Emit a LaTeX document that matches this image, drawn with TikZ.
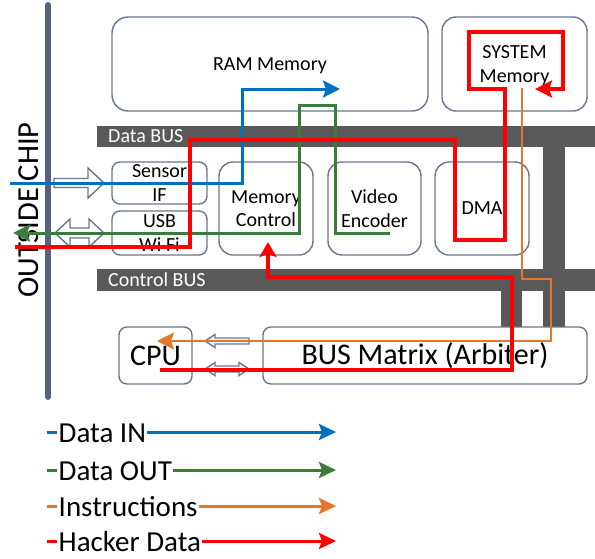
\documentclass[tikz,border=0pt]{standalone}
\usepackage{fontspec}
\setmainfont{Carlito}
\usetikzlibrary{arrows.meta}
\definecolor{busgray}{HTML}{595959}
\definecolor{boxline}{RGB}{106,117,140}
\definecolor{chipbar}{RGB}{88,98,122}
\definecolor{cblue}{HTML}{0070C0}
\definecolor{cgreen}{RGB}{58,124,60}
\definecolor{corange}{RGB}{230,118,44}
\definecolor{cred}{HTML}{FF0000}
\tikzset{
  blk/.style={draw=boxline, line width=1.4pt, fill=white, rectangle, inner sep=0pt, align=center},
  txt19/.style={font=\fontsize{20}{23.5}\selectfont},
  txt30/.style={font=\fontsize{30}{34}\selectfont},
  busbar/.style={fill=busgray, draw=none},
  buslabel/.style={text=white, font=\fontsize{20}{22}\selectfont, inner sep=0pt, anchor=west},
  hollow/.style={draw=boxline, line width=1.4pt, fill=white, line join=miter},
  tip/.style={-{Stealth[length=17pt,width=17pt,inset=3pt]}},
  flow/.style={line join=miter},
  legtext/.style={fill=white, inner xsep=1.5pt, inner ysep=0pt, text depth=0pt, anchor=base west, font=\fontsize{29}{30}\selectfont},
}
\begin{document}
\begin{tikzpicture}[x=1pt,y=-1pt]
\useasboundingbox (0,0) rectangle (595,558);
% buses
\fill[busgray] (97,126) rectangle (595,147);
\fill[busgray] (97,269) rectangle (595,291);
\fill[busgray] (543,126) rectangle (565,330);
\fill[busgray] (501,289) rectangle (522,330);
\node[buslabel] (databus) at (108,136.5) {Data BUS};
\node[buslabel] (ctrlbus) at (108,280) {Control BUS};
% outside chip bar
\draw[chipbar, line width=6pt, line cap=round] (48,5) -- (48,397);
\node[rotate=90, anchor=base, font=\fontsize{30.5}{34}\selectfont] (outside) at (38,210) {OUTSIDE CHIP};
% boxes
\node[blk, txt19, text depth=0pt, rounded corners=16pt, minimum width=316pt, minimum height=94pt] (ram) at (270,64) {RAM Memory};
\node[blk, txt19, text depth=0pt, rounded corners=14pt, minimum width=145pt, minimum height=94pt] (sys) at (514.5,64) {SYSTEM\\Memory};
\node[blk, txt19, rounded corners=8pt, minimum width=95pt, minimum height=42pt] (sensor) at (159.5,183) {Sensor\\IF};
\node[blk, txt19, rounded corners=8pt, minimum width=95pt, minimum height=44pt] (usb) at (159.5,233) {USB\\Wi Fi};
\node[blk, txt19, rounded corners=14pt, minimum width=94pt, minimum height=93pt] (memctl) at (266,208.5) {Memory\\Control};
\node[blk, txt19, rounded corners=14pt, minimum width=93pt, minimum height=93pt] (video) at (374.5,208.5) {Video\\Encoder};
\node[blk, txt19, rounded corners=14pt, minimum width=94pt, minimum height=93pt] (dma) at (482,208.5) {DMA};
\node[blk, txt30, rounded corners=8pt, minimum width=73pt, minimum height=57pt] (cpu) at (155.5,355.5) {CPU};
\node[blk, txt30, rounded corners=8pt, minimum width=324pt, minimum height=57pt] (busmx) at (425,355.5) {BUS Matrix (Arbiter)};
% hollow block arrows
\draw[hollow] (54,178.5) -- (88,178.5) -- (88,168) -- (104,183) -- (88,198) -- (88,187.5) -- (54,187.5) -- cycle;
\draw[hollow] (55,233) -- (70,219) -- (70,228) -- (89,228) -- (89,219) -- (104,233) -- (89,247) -- (89,238) -- (70,238) -- (70,247) -- cycle;
\draw[hollow] (205,341) -- (215,334.5) -- (215,338) -- (249,338) -- (249,344) -- (215,344) -- (215,347.5) -- cycle;
\draw[hollow] (205,369) -- (215,362.5) -- (215,366) -- (239,366) -- (239,362.5) -- (249,369) -- (239,375.5) -- (239,372) -- (215,372) -- (215,375.5) -- cycle;
% flow coordinates
\coordinate (bin) at (10,183);
\coordinate (bout) at (340,89);
\coordinate (gin) at (390,233);
\coordinate (gout) at (13,233);
\coordinate (rin) at (15,247);
\coordinate (rout) at (535,89);
\coordinate (r2in) at (160,370);
\coordinate (r2out) at (268,242);
\coordinate (oin) at (522,88);
\coordinate (oout) at (157,341);
% flows
\draw[cblue, line width=3pt, flow, tip] (bin) -- (242,183) -- (242,89) -- (bout);
\draw[cgreen, line width=3pt, flow, tip] (gin) -- (335,233) -- (335,105) -- (299,105) -- (299,233) -- (gout);
\draw[corange, line width=2.5pt, flow, tip] (oin) -- (522,279) -- (551,279) -- (551,341) -- (oout);
\draw[cred, line width=4pt, flow, tip] (rin) -- (190,247) -- (190,140) -- (455,140) -- (455,240) -- (505,240) -- (505,89) -- (469,89) -- (469,32) -- (563,32) -- (563,89) -- (rout);
\draw[cred, line width=4pt, flow, -{Stealth[length=15pt,width=17pt,inset=3pt]}] (r2in) -- (512,370) -- (512,277) -- (268,277) -- (r2out);
% legend
\foreach \nm/\col/\y/\lbl in {lin/cblue/432/{Data IN}, lout/cgreen/470/{Data OUT}, lins/corange/506/{Instructions}, lhack/cred/541/{Hacker Data}}{
  \coordinate (\nm a) at (47,\y);
  \coordinate (\nm b) at (336,\y);
  \draw[\col, line width=3pt, -{Stealth[length=17pt,width=16pt,inset=3pt]}] (\nm a) -- (\nm b);
  \node[legtext] (\nm) at (57,\y+10) {\lbl};
}
\end{tikzpicture}
\end{document}
